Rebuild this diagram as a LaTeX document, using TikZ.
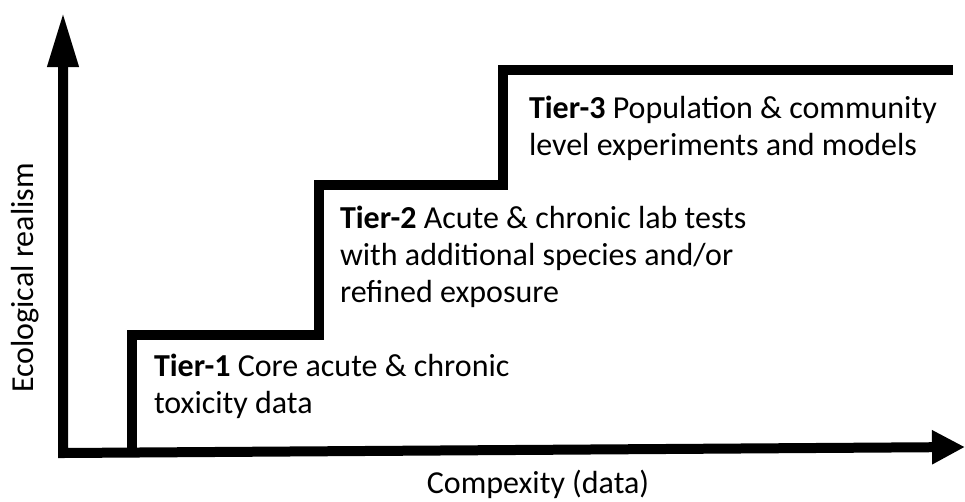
\documentclass[tikz,border=0pt]{standalone}
\usepackage{fontspec}
\setmainfont{Carlito}
\usetikzlibrary{arrows.meta, positioning, calc}
\tikzset{
  every picture/.style={x=1pt, y=-1pt, line width=10pt, line join=miter},
  axis/.style={{Triangle[length=55pt, width=29pt]}-{Triangle[length=33pt, width=32pt]}},
  stairs/.style={draw=black},
  tier/.style={anchor=base west, align=left, inner sep=0pt, font=\fontsize{32}{37}\selectfont},
  axislabel/.style={font=\fontsize{32}{37}\selectfont, inner sep=0pt},
}

\begin{document}
\begin{tikzpicture}
  \useasboundingbox (0,0) rectangle (965,501);
  % axes
  \coordinate (ytip) at (63,12);
  \coordinate (origin) at (63,453);
  \coordinate (xtip) at (965,447);
  \draw[axis] (ytip) -- (origin) -- (xtip);
  \node[axislabel, rotate=90] (ylab) at (25,278) {Ecological realism};
  \node[axislabel, anchor=base] (xlab) at (538,493) {Compexity (data)};
  % the three tiers
  \coordinate (s0) at (132,453);
  \coordinate (s1) at (132,335);
  \coordinate (s2) at (319,335);
  \coordinate (s3) at (319,185);
  \coordinate (s4) at (503,185);
  \coordinate (s5) at (503,70);
  \coordinate (s6) at (953,70);
  \draw[stairs] (s0) -- (s1) -- (s2) -- (s3) -- (s4) -- (s5) -- (s6);
  % anchored at the baseline of the last line
  \node[tier] (t1) at (149,413) {\textbf{Tier-1} Core acute \& chronic\\toxicity data};
  \node[tier] (t2) at (335,302) {\textbf{Tier-2} Acute \& chronic lab tests\\with additional species and/or\\refined exposure};
  \node[tier] (t3) at (524,155) {\textbf{Tier-3} Population \& community\\level experiments and models};
\end{tikzpicture}
\end{document}
